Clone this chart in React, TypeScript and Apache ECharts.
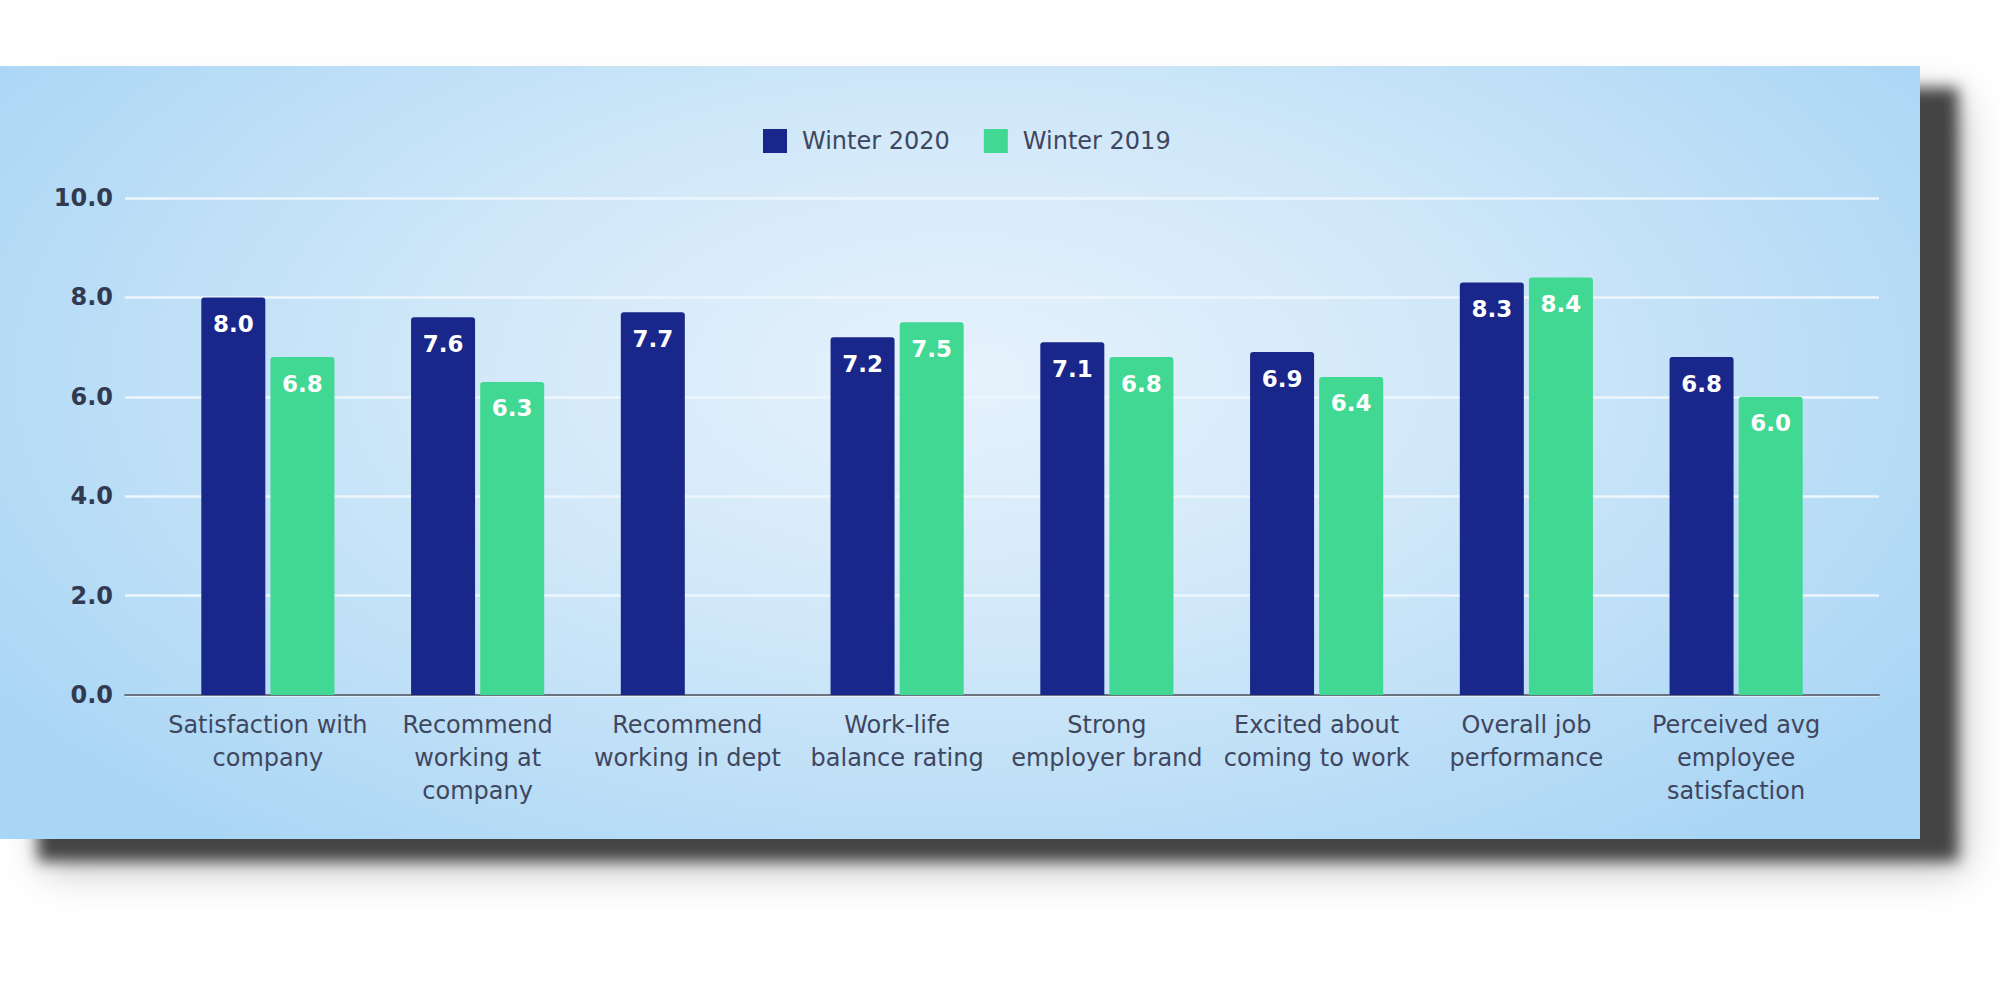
import * as echarts from 'echarts'
import { useEffect, useRef } from 'react'

// survey scores, two rounds
const categories = [
  'Satisfaction with\ncompany',
  'Recommend\nworking at\ncompany',
  'Recommend\nworking in dept',
  'Work-life\nbalance rating',
  'Strong\nemployer brand',
  'Excited about\ncoming to work',
  'Overall job\nperformance',
  'Perceived avg\nemployee\nsatisfaction',
]
const winter2020 = [8.0, 7.6, 7.7, 7.2, 7.1, 6.9, 8.3, 6.8]
const winter2019 = [6.8, 6.3, null, 7.5, 6.8, 6.4, 8.4, 6.0]
const yTicks = [0, 2, 4, 6, 8, 10]

const FONT = 'DejaVu Sans'

const App = () => {
  const chartRef = useRef<HTMLDivElement | null>(null)

  useEffect(() => {
    if (!chartRef.current) return
    const myChart = echarts.init(chartRef.current, null, { renderer: 'svg' })

    const valueLabel = {
      show: true,
      position: 'insideTop',
      distance: 15,
      color: '#ffffff',
      fontFamily: FONT,
      fontWeight: 'bold',
      fontSize: 23,
      formatter: (p: any) => (p.value == null ? '' : Number(p.value).toFixed(1)),
    }

    const option: any = {
      animation: false,
      backgroundColor: 'transparent',
      legend: {
        left: 758,
        top: 58,
        icon: 'rect',
        itemWidth: 24,
        itemHeight: 24,
        itemGap: 34,
        data: ['Winter 2020', 'Winter 2019'],
        textStyle: {
          fontFamily: FONT,
          fontSize: 24,
          color: '#3e4660',
          padding: [0, 0, 0, 10],
        },
      },
      grid: [
        // grid for gridlines and y labels
        { left: 125, top: 132, width: 1754, height: 497 },
        // grid for bars
        { left: 163, top: 132, width: 1678, height: 497 },
      ],
      xAxis: [
        {
          type: 'value',
          gridIndex: 0,
          min: 0,
          max: 1,
          axisLine: { show: true, lineStyle: { color: '#6b7280', width: 2 } },
          axisTick: { show: false },
          axisLabel: { show: false },
          splitLine: { show: false },
        },
        {
          type: 'category',
          gridIndex: 1,
          data: categories,
          axisLine: { show: false },
          axisTick: { show: false },
          axisLabel: {
            interval: 0,
            margin: 13,
            fontFamily: FONT,
            fontSize: 24,
            lineHeight: 33,
            color: '#3f475f',
          },
        },
      ],
      yAxis: [
        {
          type: 'value',
          gridIndex: 0,
          min: yTicks[0],
          max: yTicks[yTicks.length - 1],
          interval: 2,
          axisLine: { show: false },
          axisTick: { show: false },
          axisLabel: {
            margin: 12,
            fontFamily: FONT,
            fontSize: 24,
            fontWeight: 'bold',
            color: '#323a52',
            formatter: (v: number) => v.toFixed(1),
          },
          splitLine: { lineStyle: { color: '#eef6fd', width: 2.5 } },
        },
        {
          type: 'value',
          gridIndex: 1,
          min: yTicks[0],
          max: yTicks[yTicks.length - 1],
          interval: 2,
          show: false,
          splitLine: { show: false },
        },
      ],
      series: [
        {
          name: 'Winter 2020',
          type: 'bar',
          xAxisIndex: 1,
          yAxisIndex: 1,
          barWidth: 64,
          barGap: '8%',
          data: winter2020,
          itemStyle: { color: '#19268a', borderRadius: [3, 3, 0, 0] },
          label: valueLabel,
        },
        {
          name: 'Winter 2019',
          type: 'bar',
          xAxisIndex: 1,
          yAxisIndex: 1,
          barWidth: 64,
          barGap: '8%',
          data: winter2019,
          itemStyle: { color: '#40d892', borderRadius: [3, 3, 0, 0] },
          label: valueLabel,
        },
      ],
    }

    myChart.setOption(option)
    return () => {
      myChart.dispose()
    }
  }, [])

  return (
    <div style={{ position: 'fixed', left: 0, top: 0, width: 2000, height: 1000, background: '#ffffff' }}>
      <div
        style={{
          position: 'absolute',
          left: 0,
          top: 66,
          width: 1920,
          height: 773,
          background:
            'radial-gradient(ellipse 60% 78% at 50% 40%, #e6f2fc 0%, #d3e9f9 40%, #aad6f5 100%)',
          boxShadow: '38px 22px 14px #444444, 44px 32px 40px rgba(0,0,0,0.22)',
        }}
      >
        <div ref={chartRef} style={{ width: 1920, height: 773 }}></div>
      </div>
    </div>
  )
}

export default App
